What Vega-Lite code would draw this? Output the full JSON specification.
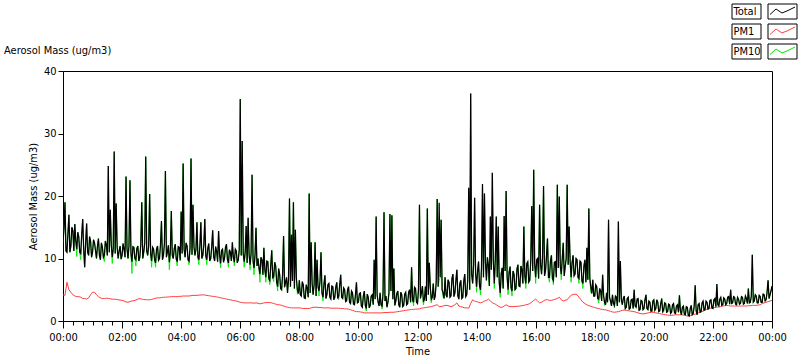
{
"$schema":"https://vega.github.io/schema/vega-lite/v6.json",
"autosize":{"type":"none"},
"width":709,"height":250,
"padding":{"left":63,"top":71,"right":28,"bottom":40},
"background":"white",
"title":{"text":"Aerosol Mass (ug/m3)","anchor":"start","frame":"group","dx":-59,"dy":69,"offset":14,"fontSize":11,"fontWeight":"normal","color":"black"},
"datasets":{
"main":[
{"m":0,"Total":12.5,"PM10":12.5},{"m":2,"Total":14.8,"PM10":14.8},{"m":4,"Total":19.0,"PM10":19.0},{"m":6,"Total":11.2,"PM10":11.2},{"m":8,"Total":11.0,"PM10":11.0},{"m":10,"Total":14.0,"PM10":14.0},{"m":12,"Total":17.0,"PM10":17.0},{"m":14,"Total":11.0,"PM10":11.0},{"m":16,"Total":12.0,"PM10":12.0},{"m":18,"Total":15.0,"PM10":15.0},
{"m":20,"Total":14.5,"PM10":14.5},{"m":22,"Total":11.2,"PM10":11.2},{"m":24,"Total":15.5,"PM10":15.5},{"m":26,"Total":12.8,"PM10":12.8},{"m":28,"Total":11.5,"PM10":10.3},{"m":30,"Total":14.2,"PM10":14.2},{"m":32,"Total":13.5,"PM10":13.5},{"m":34,"Total":11.0,"PM10":11.0},{"m":36,"Total":10.8,"PM10":9.8},{"m":38,"Total":13.8,"PM10":13.8},
{"m":40,"Total":16.3,"PM10":16.3},{"m":42,"Total":11.5,"PM10":11.5},{"m":44,"Total":8.6,"PM10":8.6},{"m":46,"Total":12.5,"PM10":12.5},{"m":48,"Total":15.6,"PM10":15.6},{"m":50,"Total":11.0,"PM10":11.0},{"m":52,"Total":10.5,"PM10":10.5},{"m":54,"Total":13.5,"PM10":13.5},{"m":56,"Total":12.8,"PM10":12.8},{"m":58,"Total":10.2,"PM10":10.2},
{"m":60,"Total":11.0,"PM10":11.0},{"m":62,"Total":13.0,"PM10":13.0},{"m":64,"Total":12.5,"PM10":12.5},{"m":66,"Total":11.3,"PM10":11.3},{"m":68,"Total":10.0,"PM10":10.0},{"m":70,"Total":12.0,"PM10":12.0},{"m":72,"Total":13.2,"PM10":13.2},{"m":74,"Total":10.5,"PM10":10.5},{"m":76,"Total":9.8,"PM10":9.8},{"m":78,"Total":12.5,"PM10":12.5},
{"m":80,"Total":11.8,"PM10":11.8},{"m":82,"Total":10.2,"PM10":10.2},{"m":84,"Total":10.5,"PM10":9.5},{"m":86,"Total":12.8,"PM10":12.8},{"m":88,"Total":12.2,"PM10":12.2},{"m":90,"Total":10.5,"PM10":10.5},{"m":92,"Total":24.8,"PM10":24.8},{"m":94,"Total":11.0,"PM10":11.0},{"m":96,"Total":17.8,"PM10":17.8},{"m":98,"Total":12.3,"PM10":12.3},
{"m":100,"Total":10.2,"PM10":9.2},{"m":102,"Total":11.5,"PM10":11.5},{"m":104,"Total":27.1,"PM10":27.1},{"m":106,"Total":10.8,"PM10":10.8},{"m":108,"Total":18.8,"PM10":18.8},{"m":110,"Total":11.8,"PM10":11.8},{"m":112,"Total":10.0,"PM10":10.0},{"m":114,"Total":11.2,"PM10":11.2},{"m":116,"Total":12.0,"PM10":12.0},{"m":118,"Total":9.9,"PM10":9.9},
{"m":120,"Total":10.5,"PM10":10.5},{"m":122,"Total":12.4,"PM10":12.4},{"m":124,"Total":11.5,"PM10":11.5},{"m":126,"Total":10.2,"PM10":10.2},{"m":128,"Total":23.1,"PM10":23.1},{"m":130,"Total":11.6,"PM10":11.6},{"m":132,"Total":10.0,"PM10":10.0},{"m":134,"Total":12.0,"PM10":12.0},{"m":136,"Total":22.5,"PM10":22.5},{"m":138,"Total":10.8,"PM10":10.8},
{"m":140,"Total":9.5,"PM10":7.6},{"m":142,"Total":11.9,"PM10":11.9},{"m":144,"Total":11.8,"PM10":11.8},{"m":146,"Total":10.0,"PM10":10.0},{"m":148,"Total":9.8,"PM10":8.8},{"m":150,"Total":11.6,"PM10":11.6},{"m":152,"Total":12.0,"PM10":12.0},{"m":154,"Total":9.6,"PM10":9.6},{"m":156,"Total":10.2,"PM10":10.2},{"m":158,"Total":12.2,"PM10":12.2},
{"m":160,"Total":19.0,"PM10":19.0},{"m":162,"Total":10.0,"PM10":10.0},{"m":164,"Total":11.0,"PM10":11.0},{"m":166,"Total":12.4,"PM10":12.4},{"m":168,"Total":26.3,"PM10":26.3},{"m":170,"Total":11.2,"PM10":11.2},{"m":172,"Total":10.5,"PM10":10.5},{"m":174,"Total":12.0,"PM10":12.0},{"m":176,"Total":20.3,"PM10":20.3},{"m":178,"Total":10.8,"PM10":10.8},
{"m":180,"Total":9.6,"PM10":8.6},{"m":182,"Total":11.8,"PM10":11.8},{"m":184,"Total":11.5,"PM10":11.5},{"m":186,"Total":9.8,"PM10":9.8},{"m":188,"Total":9.3,"PM10":8.6},{"m":190,"Total":11.5,"PM10":11.5},{"m":192,"Total":12.0,"PM10":12.0},{"m":194,"Total":9.7,"PM10":9.7},{"m":196,"Total":10.0,"PM10":10.0},{"m":198,"Total":12.2,"PM10":12.2},
{"m":200,"Total":16.0,"PM10":16.0},{"m":202,"Total":9.8,"PM10":9.8},{"m":204,"Total":10.5,"PM10":10.5},{"m":206,"Total":12.4,"PM10":12.4},{"m":208,"Total":24.0,"PM10":24.0},{"m":210,"Total":10.2,"PM10":10.2},{"m":212,"Total":11.0,"PM10":11.0},{"m":214,"Total":12.1,"PM10":12.1},{"m":216,"Total":9.4,"PM10":8.2},{"m":218,"Total":11.0,"PM10":11.0},
{"m":220,"Total":17.6,"PM10":17.6},{"m":222,"Total":10.5,"PM10":10.5},{"m":224,"Total":10.0,"PM10":10.0},{"m":226,"Total":11.6,"PM10":11.6},{"m":228,"Total":12.3,"PM10":12.3},{"m":230,"Total":9.9,"PM10":9.9},{"m":232,"Total":9.5,"PM10":8.8},{"m":234,"Total":11.9,"PM10":11.9},{"m":236,"Total":11.8,"PM10":11.8},{"m":238,"Total":9.7,"PM10":9.7},
{"m":240,"Total":17.5,"PM10":17.5},{"m":242,"Total":10.8,"PM10":10.8},{"m":244,"Total":25.2,"PM10":25.2},{"m":246,"Total":11.5,"PM10":11.5},{"m":248,"Total":10.2,"PM10":10.2},{"m":250,"Total":12.5,"PM10":12.5},{"m":252,"Total":12.0,"PM10":12.0},{"m":254,"Total":9.8,"PM10":9.8},{"m":256,"Total":9.6,"PM10":9.0},{"m":258,"Total":11.7,"PM10":11.7},
{"m":260,"Total":26.0,"PM10":26.0},{"m":262,"Total":10.6,"PM10":10.6},{"m":264,"Total":18.6,"PM10":18.6},{"m":266,"Total":11.9,"PM10":11.9},{"m":268,"Total":10.5,"PM10":10.5},{"m":270,"Total":11.4,"PM10":11.4},{"m":272,"Total":15.8,"PM10":15.8},{"m":274,"Total":10.2,"PM10":10.2},{"m":276,"Total":9.8,"PM10":9.0},{"m":278,"Total":12.0,"PM10":12.0},
{"m":280,"Total":15.8,"PM10":15.8},{"m":282,"Total":10.0,"PM10":10.0},{"m":284,"Total":10.5,"PM10":10.5},{"m":286,"Total":12.2,"PM10":12.2},{"m":288,"Total":16.3,"PM10":16.3},{"m":290,"Total":10.4,"PM10":10.4},{"m":292,"Total":9.8,"PM10":9.0},{"m":294,"Total":11.6,"PM10":11.6},{"m":296,"Total":12.4,"PM10":12.4},{"m":298,"Total":9.6,"PM10":9.6},
{"m":300,"Total":10.0,"PM10":10.0},{"m":302,"Total":11.8,"PM10":11.8},{"m":304,"Total":14.5,"PM10":14.5},{"m":306,"Total":10.3,"PM10":10.3},{"m":308,"Total":9.6,"PM10":9.6},{"m":310,"Total":11.9,"PM10":11.9},{"m":312,"Total":11.2,"PM10":11.2},{"m":314,"Total":9.5,"PM10":9.5},{"m":316,"Total":14.4,"PM10":14.4},{"m":318,"Total":10.6,"PM10":10.6},
{"m":320,"Total":9.2,"PM10":8.5},{"m":322,"Total":11.3,"PM10":11.3},{"m":324,"Total":11.5,"PM10":11.5},{"m":326,"Total":9.4,"PM10":9.4},{"m":328,"Total":10.0,"PM10":10.0},{"m":330,"Total":11.8,"PM10":11.8},{"m":332,"Total":12.3,"PM10":12.3},{"m":334,"Total":9.8,"PM10":9.8},{"m":336,"Total":9.3,"PM10":8.6},{"m":338,"Total":11.4,"PM10":11.4},
{"m":340,"Total":11.0,"PM10":11.0},{"m":342,"Total":9.6,"PM10":9.6},{"m":344,"Total":12.6,"PM10":12.6},{"m":346,"Total":10.2,"PM10":10.2},{"m":348,"Total":9.4,"PM10":8.8},{"m":350,"Total":11.5,"PM10":11.5},{"m":352,"Total":11.2,"PM10":11.2},{"m":354,"Total":9.3,"PM10":9.3},{"m":356,"Total":9.8,"PM10":9.8},{"m":358,"Total":11.4,"PM10":11.4},
{"m":360,"Total":35.5,"PM10":35.5},{"m":362,"Total":10.5,"PM10":10.5},{"m":364,"Total":28.8,"PM10":28.8},{"m":366,"Total":10.8,"PM10":10.8},{"m":368,"Total":9.5,"PM10":8.6},{"m":370,"Total":11.0,"PM10":11.0},{"m":372,"Total":15.2,"PM10":15.2},{"m":374,"Total":9.3,"PM10":9.3},{"m":376,"Total":16.5,"PM10":16.5},{"m":378,"Total":10.6,"PM10":10.6},
{"m":380,"Total":9.0,"PM10":8.2},{"m":382,"Total":10.8,"PM10":10.8},{"m":384,"Total":23.4,"PM10":23.4},{"m":386,"Total":9.6,"PM10":9.6},{"m":388,"Total":8.5,"PM10":7.4},{"m":390,"Total":10.6,"PM10":10.6},{"m":392,"Total":14.9,"PM10":14.9},{"m":394,"Total":8.8,"PM10":8.8},{"m":396,"Total":10.0,"PM10":10.0},{"m":398,"Total":8.5,"PM10":8.5},
{"m":400,"Total":7.5,"PM10":6.2},{"m":402,"Total":10.2,"PM10":10.2},{"m":404,"Total":9.8,"PM10":9.8},{"m":406,"Total":7.4,"PM10":7.4},{"m":408,"Total":11.7,"PM10":11.7},{"m":410,"Total":8.2,"PM10":8.2},{"m":412,"Total":7.0,"PM10":6.2},{"m":414,"Total":9.6,"PM10":9.6},{"m":416,"Total":9.5,"PM10":9.5},{"m":418,"Total":6.8,"PM10":6.8},
{"m":420,"Total":6.5,"PM10":5.8},{"m":422,"Total":9.0,"PM10":9.0},{"m":424,"Total":11.3,"PM10":11.3},{"m":426,"Total":6.8,"PM10":6.8},{"m":428,"Total":7.2,"PM10":6.3},{"m":430,"Total":9.4,"PM10":9.4},{"m":432,"Total":8.8,"PM10":8.8},{"m":434,"Total":6.2,"PM10":6.2},{"m":436,"Total":5.5,"PM10":4.8},{"m":438,"Total":8.4,"PM10":8.4},
{"m":440,"Total":7.5,"PM10":7.5},{"m":442,"Total":5.2,"PM10":5.2},{"m":444,"Total":5.0,"PM10":5.0},{"m":446,"Total":7.4,"PM10":7.4},{"m":448,"Total":13.6,"PM10":13.6},{"m":450,"Total":5.4,"PM10":5.4},{"m":452,"Total":6.2,"PM10":6.2},{"m":454,"Total":7.0,"PM10":7.0},{"m":456,"Total":4.5,"PM10":4.5},{"m":458,"Total":6.6,"PM10":6.6},
{"m":460,"Total":19.6,"PM10":19.6},{"m":462,"Total":5.5,"PM10":5.5},{"m":464,"Total":13.8,"PM10":13.8},{"m":466,"Total":6.4,"PM10":6.4},{"m":468,"Total":19.0,"PM10":19.0},{"m":470,"Total":5.2,"PM10":5.2},{"m":472,"Total":14.6,"PM10":14.6},{"m":474,"Total":6.8,"PM10":6.8},{"m":476,"Total":5.0,"PM10":4.3},{"m":478,"Total":4.4,"PM10":4.4},
{"m":480,"Total":6.5,"PM10":6.5},{"m":482,"Total":4.2,"PM10":4.2},{"m":484,"Total":4.0,"PM10":4.0},{"m":486,"Total":6.3,"PM10":6.3},{"m":488,"Total":5.8,"PM10":5.8},{"m":490,"Total":3.7,"PM10":3.7},{"m":492,"Total":3.6,"PM10":3.6},{"m":494,"Total":5.8,"PM10":5.8},{"m":496,"Total":5.2,"PM10":5.2},{"m":498,"Total":3.8,"PM10":3.8},
{"m":500,"Total":20.4,"PM10":20.4},{"m":502,"Total":4.5,"PM10":4.5},{"m":504,"Total":12.6,"PM10":12.6},{"m":506,"Total":6.0,"PM10":6.0},{"m":508,"Total":4.2,"PM10":4.2},{"m":510,"Total":5.8,"PM10":5.8},{"m":512,"Total":12.6,"PM10":12.6},{"m":514,"Total":4.0,"PM10":4.0},{"m":516,"Total":9.8,"PM10":9.8},{"m":518,"Total":5.5,"PM10":5.5},
{"m":520,"Total":4.8,"PM10":4.0},{"m":522,"Total":6.4,"PM10":6.4},{"m":524,"Total":11.0,"PM10":11.0},{"m":526,"Total":4.5,"PM10":4.5},{"m":528,"Total":3.8,"PM10":3.2},{"m":530,"Total":5.9,"PM10":5.9},{"m":532,"Total":7.3,"PM10":7.3},{"m":534,"Total":3.6,"PM10":3.6},{"m":536,"Total":4.2,"PM10":4.2},{"m":538,"Total":5.8,"PM10":5.8},
{"m":540,"Total":6.0,"PM10":6.0},{"m":542,"Total":3.8,"PM10":3.8},{"m":544,"Total":3.5,"PM10":3.5},{"m":546,"Total":5.6,"PM10":5.6},{"m":548,"Total":5.5,"PM10":5.5},{"m":550,"Total":3.4,"PM10":3.4},{"m":552,"Total":3.8,"PM10":3.8},{"m":554,"Total":5.4,"PM10":5.4},{"m":556,"Total":6.2,"PM10":6.2},{"m":558,"Total":3.6,"PM10":3.6},
{"m":560,"Total":4.0,"PM10":3.4},{"m":562,"Total":5.8,"PM10":5.8},{"m":564,"Total":7.4,"PM10":7.4},{"m":566,"Total":3.8,"PM10":3.8},{"m":568,"Total":3.6,"PM10":3.6},{"m":570,"Total":5.3,"PM10":5.3},{"m":572,"Total":5.0,"PM10":5.0},{"m":574,"Total":3.1,"PM10":3.1},{"m":576,"Total":3.2,"PM10":3.2},{"m":578,"Total":5.0,"PM10":5.0},
{"m":580,"Total":5.5,"PM10":5.5},{"m":582,"Total":3.0,"PM10":3.0},{"m":584,"Total":2.8,"PM10":2.8},{"m":586,"Total":4.8,"PM10":4.8},{"m":588,"Total":4.5,"PM10":4.5},{"m":590,"Total":2.7,"PM10":2.7},{"m":592,"Total":2.6,"PM10":2.6},{"m":594,"Total":4.2,"PM10":4.2},{"m":596,"Total":6.2,"PM10":6.2},{"m":598,"Total":2.9,"PM10":2.9},
{"m":600,"Total":3.0,"PM10":3.0},{"m":602,"Total":4.4,"PM10":4.4},{"m":604,"Total":4.5,"PM10":4.5},{"m":606,"Total":2.4,"PM10":2.4},{"m":608,"Total":2.2,"PM10":2.2},{"m":610,"Total":4.0,"PM10":4.0},{"m":612,"Total":4.8,"PM10":4.8},{"m":614,"Total":2.5,"PM10":2.5},{"m":616,"Total":2.0,"PM10":1.6},{"m":618,"Total":4.3,"PM10":4.3},
{"m":620,"Total":3.8,"PM10":3.8},{"m":622,"Total":2.1,"PM10":2.1},{"m":624,"Total":2.5,"PM10":2.5},{"m":626,"Total":4.0,"PM10":4.0},{"m":628,"Total":4.2,"PM10":4.2},{"m":630,"Total":2.6,"PM10":2.6},{"m":632,"Total":9.8,"PM10":9.8},{"m":634,"Total":3.5,"PM10":3.5},{"m":636,"Total":16.7,"PM10":16.7},{"m":638,"Total":4.2,"PM10":4.2},
{"m":640,"Total":3.0,"PM10":3.0},{"m":642,"Total":2.4,"PM10":2.4},{"m":644,"Total":4.5,"PM10":4.5},{"m":646,"Total":2.6,"PM10":2.6},{"m":648,"Total":2.4,"PM10":1.9},{"m":650,"Total":4.4,"PM10":4.4},{"m":652,"Total":17.4,"PM10":17.4},{"m":654,"Total":3.2,"PM10":3.2},{"m":656,"Total":4.0,"PM10":4.0},{"m":658,"Total":2.2,"PM10":2.2},
{"m":660,"Total":3.0,"PM10":3.0},{"m":662,"Total":4.5,"PM10":4.5},{"m":664,"Total":17.1,"PM10":17.1},{"m":666,"Total":4.8,"PM10":4.8},{"m":668,"Total":16.9,"PM10":16.9},{"m":670,"Total":3.5,"PM10":3.5},{"m":672,"Total":8.4,"PM10":8.4},{"m":674,"Total":2.5,"PM10":2.5},{"m":676,"Total":3.2,"PM10":3.2},{"m":678,"Total":4.4,"PM10":4.4},
{"m":680,"Total":4.8,"PM10":4.8},{"m":682,"Total":2.6,"PM10":2.6},{"m":684,"Total":2.2,"PM10":2.2},{"m":686,"Total":4.6,"PM10":4.6},{"m":688,"Total":4.2,"PM10":4.2},{"m":690,"Total":2.3,"PM10":2.3},{"m":692,"Total":2.5,"PM10":2.5},{"m":694,"Total":4.3,"PM10":4.3},{"m":696,"Total":4.6,"PM10":4.6},{"m":698,"Total":2.6,"PM10":2.6},
{"m":700,"Total":2.8,"PM10":2.8},{"m":702,"Total":4.6,"PM10":4.6},{"m":704,"Total":5.0,"PM10":5.0},{"m":706,"Total":3.0,"PM10":3.0},{"m":708,"Total":8.6,"PM10":8.6},{"m":710,"Total":3.4,"PM10":3.4},{"m":712,"Total":3.0,"PM10":2.4},{"m":714,"Total":5.4,"PM10":5.4},{"m":716,"Total":5.2,"PM10":5.2},{"m":718,"Total":3.0,"PM10":3.0},
{"m":720,"Total":2.8,"PM10":2.8},{"m":722,"Total":5.0,"PM10":5.0},{"m":724,"Total":18.6,"PM10":18.6},{"m":726,"Total":3.6,"PM10":3.6},{"m":728,"Total":4.5,"PM10":4.5},{"m":730,"Total":5.6,"PM10":5.6},{"m":732,"Total":3.2,"PM10":2.6},{"m":734,"Total":3.4,"PM10":3.4},{"m":736,"Total":5.5,"PM10":5.5},{"m":738,"Total":3.2,"PM10":3.2},
{"m":740,"Total":18.0,"PM10":18.0},{"m":742,"Total":4.2,"PM10":4.2},{"m":744,"Total":9.3,"PM10":9.3},{"m":746,"Total":5.4,"PM10":5.4},{"m":748,"Total":3.5,"PM10":2.9},{"m":750,"Total":3.8,"PM10":3.8},{"m":752,"Total":6.0,"PM10":6.0},{"m":754,"Total":3.4,"PM10":3.4},{"m":756,"Total":4.0,"PM10":4.0},{"m":758,"Total":6.2,"PM10":6.2},
{"m":760,"Total":19.5,"PM10":19.5},{"m":762,"Total":5.5,"PM10":5.5},{"m":764,"Total":18.9,"PM10":6.5},{"m":766,"Total":7.0,"PM10":7.0},{"m":768,"Total":16.2,"PM10":16.2},{"m":770,"Total":5.0,"PM10":5.0},{"m":772,"Total":4.5,"PM10":3.8},{"m":774,"Total":3.6,"PM10":3.6},{"m":776,"Total":7.0,"PM10":7.0},{"m":778,"Total":4.2,"PM10":4.2},
{"m":780,"Total":3.8,"PM10":3.8},{"m":782,"Total":6.6,"PM10":6.6},{"m":784,"Total":6.2,"PM10":6.2},{"m":786,"Total":3.8,"PM10":3.8},{"m":788,"Total":4.0,"PM10":4.0},{"m":790,"Total":6.8,"PM10":6.8},{"m":792,"Total":7.5,"PM10":7.5},{"m":794,"Total":3.9,"PM10":3.9},{"m":796,"Total":4.5,"PM10":4.5},{"m":798,"Total":6.5,"PM10":6.5},
{"m":800,"Total":8.2,"PM10":8.2},{"m":802,"Total":4.0,"PM10":4.0},{"m":804,"Total":3.5,"PM10":3.5},{"m":806,"Total":6.0,"PM10":6.0},{"m":808,"Total":6.5,"PM10":6.5},{"m":810,"Total":3.6,"PM10":3.6},{"m":812,"Total":3.8,"PM10":3.8},{"m":814,"Total":6.4,"PM10":6.4},{"m":816,"Total":7.5,"PM10":7.5},{"m":818,"Total":3.9,"PM10":3.9},
{"m":820,"Total":4.2,"PM10":4.2},{"m":822,"Total":6.5,"PM10":6.5},{"m":824,"Total":21.3,"PM10":21.3},{"m":826,"Total":5.0,"PM10":5.0},{"m":828,"Total":36.4,"PM10":36.4},{"m":830,"Total":7.5,"PM10":7.5},{"m":832,"Total":6.0,"PM10":6.0},{"m":834,"Total":9.0,"PM10":9.0},{"m":836,"Total":19.7,"PM10":19.7},{"m":838,"Total":7.6,"PM10":7.6},
{"m":840,"Total":5.5,"PM10":4.6},{"m":842,"Total":8.0,"PM10":8.0},{"m":844,"Total":9.5,"PM10":9.5},{"m":846,"Total":5.6,"PM10":5.6},{"m":848,"Total":5.0,"PM10":4.2},{"m":850,"Total":8.5,"PM10":8.5},{"m":852,"Total":21.9,"PM10":21.9},{"m":854,"Total":7.0,"PM10":7.0},{"m":856,"Total":20.4,"PM10":20.4},{"m":858,"Total":9.5,"PM10":9.5},
{"m":860,"Total":6.5,"PM10":6.5},{"m":862,"Total":10.2,"PM10":10.2},{"m":864,"Total":9.0,"PM10":7.2},{"m":866,"Total":5.6,"PM10":5.6},{"m":868,"Total":16.7,"PM10":16.7},{"m":870,"Total":8.2,"PM10":8.2},{"m":872,"Total":23.7,"PM10":23.7},{"m":874,"Total":9.6,"PM10":9.6},{"m":876,"Total":6.0,"PM10":5.2},{"m":878,"Total":9.8,"PM10":9.8},
{"m":880,"Total":16.7,"PM10":16.7},{"m":882,"Total":7.0,"PM10":7.0},{"m":884,"Total":15.1,"PM10":15.1},{"m":886,"Total":6.2,"PM10":6.2},{"m":888,"Total":4.5,"PM10":3.8},{"m":890,"Total":7.6,"PM10":7.6},{"m":892,"Total":8.5,"PM10":8.5},{"m":894,"Total":5.2,"PM10":5.2},{"m":896,"Total":16.8,"PM10":16.8},{"m":898,"Total":8.0,"PM10":8.0},
{"m":900,"Total":20.8,"PM10":20.8},{"m":902,"Total":7.0,"PM10":7.0},{"m":904,"Total":5.0,"PM10":4.2},{"m":906,"Total":7.8,"PM10":7.8},{"m":908,"Total":8.7,"PM10":8.7},{"m":910,"Total":5.3,"PM10":5.3},{"m":912,"Total":4.8,"PM10":4.0},{"m":914,"Total":8.0,"PM10":8.0},{"m":916,"Total":7.5,"PM10":7.5},{"m":918,"Total":5.0,"PM10":5.0},
{"m":920,"Total":5.2,"PM10":5.2},{"m":922,"Total":8.3,"PM10":8.3},{"m":924,"Total":9.0,"PM10":9.0},{"m":926,"Total":5.6,"PM10":5.6},{"m":928,"Total":5.5,"PM10":5.5},{"m":930,"Total":8.8,"PM10":8.8},{"m":932,"Total":8.2,"PM10":8.2},{"m":934,"Total":6.0,"PM10":6.0},{"m":936,"Total":15.1,"PM10":15.1},{"m":938,"Total":7.2,"PM10":7.2},
{"m":940,"Total":6.0,"PM10":5.2},{"m":942,"Total":9.2,"PM10":9.2},{"m":944,"Total":9.5,"PM10":9.5},{"m":946,"Total":6.2,"PM10":6.2},{"m":948,"Total":6.5,"PM10":6.5},{"m":950,"Total":9.6,"PM10":9.6},{"m":952,"Total":18.4,"PM10":18.4},{"m":954,"Total":8.0,"PM10":8.0},{"m":956,"Total":24.2,"PM10":24.2},{"m":958,"Total":9.2,"PM10":9.2},
{"m":960,"Total":7.0,"PM10":6.0},{"m":962,"Total":9.8,"PM10":9.8},{"m":964,"Total":10.0,"PM10":10.0},{"m":966,"Total":6.8,"PM10":6.8},{"m":968,"Total":18.6,"PM10":18.6},{"m":970,"Total":9.0,"PM10":9.0},{"m":972,"Total":7.5,"PM10":7.5},{"m":974,"Total":10.2,"PM10":10.2},{"m":976,"Total":21.6,"PM10":21.6},{"m":978,"Total":7.2,"PM10":7.2},
{"m":980,"Total":8.0,"PM10":8.0},{"m":982,"Total":10.4,"PM10":10.4},{"m":984,"Total":13.2,"PM10":13.2},{"m":986,"Total":7.0,"PM10":7.0},{"m":988,"Total":7.0,"PM10":6.2},{"m":990,"Total":9.6,"PM10":9.6},{"m":992,"Total":10.5,"PM10":10.5},{"m":994,"Total":6.8,"PM10":6.8},{"m":996,"Total":6.5,"PM10":5.8},{"m":998,"Total":9.4,"PM10":9.4},
{"m":1000,"Total":9.5,"PM10":9.5},{"m":1002,"Total":7.0,"PM10":7.0},{"m":1004,"Total":21.8,"PM10":21.8},{"m":1006,"Total":8.5,"PM10":8.5},{"m":1008,"Total":19.9,"PM10":19.9},{"m":1010,"Total":8.8,"PM10":8.8},{"m":1012,"Total":7.5,"PM10":6.6},{"m":1014,"Total":10.0,"PM10":10.0},{"m":1016,"Total":12.5,"PM10":12.5},{"m":1018,"Total":7.2,"PM10":7.2},
{"m":1020,"Total":8.7,"PM10":8.7},{"m":1022,"Total":10.0,"PM10":10.0},{"m":1024,"Total":21.8,"PM10":21.8},{"m":1026,"Total":9.0,"PM10":9.0},{"m":1028,"Total":15.1,"PM10":15.1},{"m":1030,"Total":9.6,"PM10":9.6},{"m":1032,"Total":7.0,"PM10":6.2},{"m":1034,"Total":9.4,"PM10":9.4},{"m":1036,"Total":10.5,"PM10":10.5},{"m":1038,"Total":7.2,"PM10":7.2},
{"m":1040,"Total":7.5,"PM10":7.5},{"m":1042,"Total":10.0,"PM10":10.0},{"m":1044,"Total":9.8,"PM10":9.8},{"m":1046,"Total":7.0,"PM10":7.0},{"m":1048,"Total":6.8,"PM10":6.0},{"m":1050,"Total":9.6,"PM10":9.6},{"m":1052,"Total":9.4,"PM10":9.4},{"m":1054,"Total":6.4,"PM10":6.4},{"m":1056,"Total":6.0,"PM10":5.2},{"m":1058,"Total":8.8,"PM10":8.8},
{"m":1060,"Total":9.8,"PM10":9.8},{"m":1062,"Total":6.2,"PM10":6.2},{"m":1064,"Total":11.7,"PM10":11.7},{"m":1066,"Total":6.6,"PM10":6.6},{"m":1068,"Total":18.0,"PM10":18.0},{"m":1070,"Total":6.8,"PM10":6.8},{"m":1072,"Total":5.5,"PM10":4.6},{"m":1074,"Total":4.4,"PM10":4.4},{"m":1076,"Total":6.6,"PM10":6.6},{"m":1078,"Total":4.0,"PM10":4.0},
{"m":1080,"Total":4.0,"PM10":4.0},{"m":1082,"Total":5.8,"PM10":5.8},{"m":1084,"Total":5.5,"PM10":5.5},{"m":1086,"Total":3.6,"PM10":3.6},{"m":1088,"Total":3.5,"PM10":2.9},{"m":1090,"Total":5.2,"PM10":5.2},{"m":1092,"Total":4.8,"PM10":4.8},{"m":1094,"Total":3.2,"PM10":3.2},{"m":1096,"Total":7.4,"PM10":7.4},{"m":1098,"Total":4.0,"PM10":4.0},
{"m":1100,"Total":3.0,"PM10":2.5},{"m":1102,"Total":2.6,"PM10":2.6},{"m":1104,"Total":4.5,"PM10":4.5},{"m":1106,"Total":3.0,"PM10":3.0},{"m":1108,"Total":16.2,"PM10":16.2},{"m":1110,"Total":3.8,"PM10":3.8},{"m":1112,"Total":3.2,"PM10":3.2},{"m":1114,"Total":2.4,"PM10":2.4},{"m":1116,"Total":4.2,"PM10":4.2},{"m":1118,"Total":2.8,"PM10":2.8},
{"m":1120,"Total":2.5,"PM10":2.1},{"m":1122,"Total":4.0,"PM10":4.0},{"m":1124,"Total":3.8,"PM10":3.8},{"m":1126,"Total":2.4,"PM10":2.4},{"m":1128,"Total":15.9,"PM10":15.9},{"m":1130,"Total":3.0,"PM10":3.0},{"m":1132,"Total":9.6,"PM10":9.6},{"m":1134,"Total":3.4,"PM10":3.4},{"m":1136,"Total":2.6,"PM10":2.6},{"m":1138,"Total":3.6,"PM10":3.6},
{"m":1140,"Total":4.0,"PM10":4.0},{"m":1142,"Total":2.0,"PM10":2.0},{"m":1144,"Total":2.2,"PM10":2.2},{"m":1146,"Total":3.6,"PM10":3.6},{"m":1148,"Total":3.8,"PM10":3.8},{"m":1150,"Total":1.9,"PM10":1.9},{"m":1152,"Total":2.0,"PM10":2.0},{"m":1154,"Total":3.4,"PM10":3.4},{"m":1156,"Total":3.5,"PM10":3.5},{"m":1158,"Total":2.0,"PM10":2.0},
{"m":1160,"Total":5.0,"PM10":5.0},{"m":1162,"Total":2.4,"PM10":2.4},{"m":1164,"Total":2.2,"PM10":2.2},{"m":1166,"Total":3.5,"PM10":3.5},{"m":1168,"Total":3.6,"PM10":3.6},{"m":1170,"Total":1.7,"PM10":1.7},{"m":1172,"Total":1.8,"PM10":1.8},{"m":1174,"Total":3.3,"PM10":3.3},{"m":1176,"Total":3.2,"PM10":3.2},{"m":1178,"Total":1.8,"PM10":1.8},
{"m":1180,"Total":2.0,"PM10":2.0},{"m":1182,"Total":3.4,"PM10":3.4},{"m":1184,"Total":4.2,"PM10":4.2},{"m":1186,"Total":2.0,"PM10":2.0},{"m":1188,"Total":1.8,"PM10":1.8},{"m":1190,"Total":3.2,"PM10":3.2},{"m":1192,"Total":3.0,"PM10":3.0},{"m":1194,"Total":1.6,"PM10":1.6},{"m":1196,"Total":1.6,"PM10":1.6},{"m":1198,"Total":3.2,"PM10":3.2},
{"m":1200,"Total":3.4,"PM10":3.4},{"m":1202,"Total":1.7,"PM10":1.7},{"m":1204,"Total":2.0,"PM10":2.0},{"m":1206,"Total":3.4,"PM10":3.4},{"m":1208,"Total":3.0,"PM10":3.0},{"m":1210,"Total":1.5,"PM10":1.5},{"m":1212,"Total":1.6,"PM10":1.6},{"m":1214,"Total":2.8,"PM10":2.8},{"m":1216,"Total":3.6,"PM10":3.6},{"m":1218,"Total":1.5,"PM10":1.5},
{"m":1220,"Total":1.8,"PM10":1.4},{"m":1222,"Total":2.9,"PM10":2.9},{"m":1224,"Total":2.8,"PM10":2.8},{"m":1226,"Total":1.4,"PM10":1.4},{"m":1228,"Total":1.5,"PM10":1.5},{"m":1230,"Total":2.7,"PM10":2.7},{"m":1232,"Total":2.6,"PM10":2.6},{"m":1234,"Total":1.2,"PM10":1.2},{"m":1236,"Total":1.4,"PM10":1.4},{"m":1238,"Total":2.6,"PM10":2.6},
{"m":1240,"Total":2.8,"PM10":2.8},{"m":1242,"Total":1.3,"PM10":1.3},{"m":1244,"Total":1.2,"PM10":1.2},{"m":1246,"Total":2.4,"PM10":2.4},{"m":1248,"Total":2.6,"PM10":2.6},{"m":1250,"Total":1.4,"PM10":1.4},{"m":1252,"Total":4.1,"PM10":4.1},{"m":1254,"Total":1.6,"PM10":1.6},{"m":1256,"Total":1.0,"PM10":1.0},{"m":1258,"Total":2.2,"PM10":2.2},
{"m":1260,"Total":2.4,"PM10":2.4},{"m":1262,"Total":1.1,"PM10":1.1},{"m":1264,"Total":1.0,"PM10":1.0},{"m":1266,"Total":2.3,"PM10":2.3},{"m":1268,"Total":2.2,"PM10":2.2},{"m":1270,"Total":0.9,"PM10":0.9},{"m":1272,"Total":0.8,"PM10":0.8},{"m":1274,"Total":2.0,"PM10":2.0},{"m":1276,"Total":2.5,"PM10":2.5},{"m":1278,"Total":1.0,"PM10":1.0},
{"m":1280,"Total":1.2,"PM10":1.2},{"m":1282,"Total":2.4,"PM10":2.4},{"m":1284,"Total":5.7,"PM10":5.7},{"m":1286,"Total":1.6,"PM10":1.6},{"m":1288,"Total":1.0,"PM10":1.0},{"m":1290,"Total":2.6,"PM10":2.6},{"m":1292,"Total":2.8,"PM10":2.8},{"m":1294,"Total":1.4,"PM10":1.4},{"m":1296,"Total":1.5,"PM10":1.5},{"m":1298,"Total":2.9,"PM10":2.9},
{"m":1300,"Total":3.2,"PM10":3.2},{"m":1302,"Total":1.7,"PM10":1.7},{"m":1304,"Total":1.8,"PM10":1.8},{"m":1306,"Total":3.2,"PM10":3.2},{"m":1308,"Total":3.0,"PM10":3.0},{"m":1310,"Total":1.9,"PM10":1.9},{"m":1312,"Total":2.0,"PM10":2.0},{"m":1314,"Total":3.3,"PM10":3.3},{"m":1316,"Total":3.4,"PM10":3.4},{"m":1318,"Total":2.1,"PM10":2.1},
{"m":1320,"Total":2.0,"PM10":2.0},{"m":1322,"Total":3.4,"PM10":3.4},{"m":1324,"Total":3.6,"PM10":3.6},{"m":1326,"Total":2.3,"PM10":2.3},{"m":1328,"Total":5.9,"PM10":5.9},{"m":1330,"Total":2.6,"PM10":2.6},{"m":1332,"Total":2.4,"PM10":2.4},{"m":1334,"Total":3.5,"PM10":3.5},{"m":1336,"Total":3.8,"PM10":3.8},{"m":1338,"Total":2.5,"PM10":2.5},
{"m":1340,"Total":2.6,"PM10":2.6},{"m":1342,"Total":3.7,"PM10":3.7},{"m":1344,"Total":3.5,"PM10":3.5},{"m":1346,"Total":2.6,"PM10":2.6},{"m":1348,"Total":2.8,"PM10":2.8},{"m":1350,"Total":3.8,"PM10":3.8},{"m":1352,"Total":3.9,"PM10":3.9},{"m":1354,"Total":2.7,"PM10":2.7},{"m":1356,"Total":5.0,"PM10":5.0},{"m":1358,"Total":2.8,"PM10":2.8},
{"m":1360,"Total":2.9,"PM10":2.9},{"m":1362,"Total":3.9,"PM10":3.9},{"m":1364,"Total":3.8,"PM10":3.8},{"m":1366,"Total":2.7,"PM10":2.7},{"m":1368,"Total":2.6,"PM10":2.6},{"m":1370,"Total":3.8,"PM10":3.8},{"m":1372,"Total":3.5,"PM10":3.5},{"m":1374,"Total":2.7,"PM10":2.7},{"m":1376,"Total":2.8,"PM10":2.8},{"m":1378,"Total":3.9,"PM10":3.9},
{"m":1380,"Total":3.8,"PM10":3.8},{"m":1382,"Total":2.7,"PM10":2.7},{"m":1384,"Total":2.8,"PM10":2.8},{"m":1386,"Total":4.0,"PM10":4.0},{"m":1388,"Total":3.6,"PM10":3.6},{"m":1390,"Total":2.8,"PM10":2.8},{"m":1392,"Total":5.2,"PM10":5.2},{"m":1394,"Total":2.9,"PM10":2.9},{"m":1396,"Total":3.0,"PM10":3.0},{"m":1398,"Total":4.0,"PM10":4.0},
{"m":1400,"Total":10.6,"PM10":10.6},{"m":1402,"Total":3.0,"PM10":3.0},{"m":1404,"Total":3.2,"PM10":3.2},{"m":1406,"Total":4.2,"PM10":4.2},{"m":1408,"Total":4.0,"PM10":4.0},{"m":1410,"Total":2.9,"PM10":2.9},{"m":1412,"Total":2.9,"PM10":2.9},{"m":1414,"Total":4.1,"PM10":4.1},{"m":1416,"Total":3.9,"PM10":3.9},{"m":1418,"Total":3.0,"PM10":3.0},
{"m":1420,"Total":3.0,"PM10":3.0},{"m":1422,"Total":4.3,"PM10":4.3},{"m":1424,"Total":4.2,"PM10":4.2},{"m":1426,"Total":3.2,"PM10":3.2},{"m":1428,"Total":3.4,"PM10":3.4},{"m":1430,"Total":4.6,"PM10":4.6},{"m":1432,"Total":6.5,"PM10":6.5},{"m":1434,"Total":3.6,"PM10":3.6},{"m":1436,"Total":4.2,"PM10":4.2},{"m":1438,"Total":4.8,"PM10":4.8},
{"m":1440,"Total":5.6,"PM10":5.6}
],
"pm1":[
{"m":0,"PM1":4.2},{"m":4,"PM1":4.1},{"m":8,"PM1":6.2},{"m":12,"PM1":5.0},{"m":16,"PM1":4.6},{"m":20,"PM1":4.2},{"m":24,"PM1":4.0},{"m":28,"PM1":3.9},{"m":32,"PM1":3.9},{"m":36,"PM1":3.8},
{"m":40,"PM1":3.6},{"m":44,"PM1":3.6},{"m":48,"PM1":3.5},{"m":52,"PM1":3.7},{"m":56,"PM1":4.2},{"m":60,"PM1":4.6},{"m":64,"PM1":4.6},{"m":68,"PM1":4.2},{"m":72,"PM1":3.9},{"m":76,"PM1":3.7},
{"m":80,"PM1":3.6},{"m":84,"PM1":3.6},{"m":88,"PM1":3.65},{"m":92,"PM1":3.6},{"m":96,"PM1":3.55},{"m":100,"PM1":3.5},{"m":104,"PM1":3.5},{"m":108,"PM1":3.45},{"m":112,"PM1":3.4},{"m":116,"PM1":3.35},
{"m":120,"PM1":3.3},{"m":124,"PM1":3.2},{"m":128,"PM1":3.05},{"m":132,"PM1":3.0},{"m":136,"PM1":3.1},{"m":140,"PM1":3.2},{"m":144,"PM1":3.25},{"m":148,"PM1":3.35},{"m":152,"PM1":3.5},{"m":156,"PM1":3.6},
{"m":160,"PM1":3.5},{"m":164,"PM1":3.45},{"m":168,"PM1":3.4},{"m":172,"PM1":3.4},{"m":176,"PM1":3.4},{"m":180,"PM1":3.45},{"m":184,"PM1":3.55},{"m":188,"PM1":3.65},{"m":192,"PM1":3.7},{"m":196,"PM1":3.7},
{"m":200,"PM1":3.75},{"m":204,"PM1":3.8},{"m":208,"PM1":3.8},{"m":212,"PM1":3.85},{"m":216,"PM1":3.85},{"m":220,"PM1":3.9},{"m":224,"PM1":3.9},{"m":228,"PM1":3.9},{"m":232,"PM1":3.9},{"m":236,"PM1":3.95},
{"m":240,"PM1":3.95},{"m":244,"PM1":4.0},{"m":248,"PM1":4.0},{"m":252,"PM1":4.0},{"m":256,"PM1":4.0},{"m":260,"PM1":4.05},{"m":264,"PM1":4.1},{"m":268,"PM1":4.1},{"m":272,"PM1":4.1},{"m":276,"PM1":4.15},
{"m":280,"PM1":4.15},{"m":284,"PM1":4.2},{"m":288,"PM1":4.15},{"m":292,"PM1":4.1},{"m":296,"PM1":4.05},{"m":300,"PM1":4.0},{"m":304,"PM1":3.95},{"m":308,"PM1":3.9},{"m":312,"PM1":3.85},{"m":316,"PM1":3.8},
{"m":320,"PM1":3.7},{"m":324,"PM1":3.65},{"m":328,"PM1":3.6},{"m":332,"PM1":3.5},{"m":336,"PM1":3.45},{"m":340,"PM1":3.4},{"m":344,"PM1":3.3},{"m":348,"PM1":3.25},{"m":352,"PM1":3.2},{"m":356,"PM1":3.1},
{"m":360,"PM1":3.0},{"m":364,"PM1":2.95},{"m":368,"PM1":2.9},{"m":372,"PM1":2.9},{"m":376,"PM1":2.9},{"m":380,"PM1":2.9},{"m":384,"PM1":2.9},{"m":388,"PM1":2.85},{"m":392,"PM1":2.9},{"m":396,"PM1":2.85},
{"m":400,"PM1":2.75},{"m":404,"PM1":2.8},{"m":408,"PM1":2.9},{"m":412,"PM1":2.95},{"m":416,"PM1":2.95},{"m":420,"PM1":2.95},{"m":424,"PM1":2.9},{"m":428,"PM1":2.8},{"m":432,"PM1":2.7},{"m":436,"PM1":2.6},
{"m":440,"PM1":2.6},{"m":444,"PM1":2.5},{"m":448,"PM1":2.4},{"m":452,"PM1":2.3},{"m":456,"PM1":2.2},{"m":460,"PM1":2.15},{"m":464,"PM1":2.1},{"m":468,"PM1":2.1},{"m":472,"PM1":2.1},{"m":476,"PM1":2.1},
{"m":480,"PM1":2.1},{"m":484,"PM1":2.05},{"m":488,"PM1":2.0},{"m":492,"PM1":2.0},{"m":496,"PM1":2.0},{"m":500,"PM1":2.0},{"m":504,"PM1":2.1},{"m":508,"PM1":2.2},{"m":512,"PM1":2.2},{"m":516,"PM1":2.2},
{"m":520,"PM1":2.15},{"m":524,"PM1":2.15},{"m":528,"PM1":2.1},{"m":532,"PM1":2.1},{"m":536,"PM1":2.1},{"m":540,"PM1":2.1},{"m":544,"PM1":2.05},{"m":548,"PM1":2.05},{"m":552,"PM1":2.05},{"m":556,"PM1":2.05},
{"m":560,"PM1":2.05},{"m":564,"PM1":2.0},{"m":568,"PM1":2.0},{"m":572,"PM1":1.95},{"m":576,"PM1":1.95},{"m":580,"PM1":1.9},{"m":584,"PM1":1.8},{"m":588,"PM1":1.7},{"m":592,"PM1":1.6},{"m":596,"PM1":1.5},
{"m":600,"PM1":1.5},{"m":604,"PM1":1.45},{"m":608,"PM1":1.4},{"m":612,"PM1":1.3},{"m":616,"PM1":1.3},{"m":620,"PM1":1.3},{"m":624,"PM1":1.3},{"m":628,"PM1":1.3},{"m":632,"PM1":1.3},{"m":636,"PM1":1.3},
{"m":640,"PM1":1.3},{"m":644,"PM1":1.3},{"m":648,"PM1":1.3},{"m":652,"PM1":1.35},{"m":656,"PM1":1.35},{"m":660,"PM1":1.35},{"m":664,"PM1":1.4},{"m":668,"PM1":1.4},{"m":672,"PM1":1.4},{"m":676,"PM1":1.45},
{"m":680,"PM1":1.5},{"m":684,"PM1":1.55},{"m":688,"PM1":1.6},{"m":692,"PM1":1.65},{"m":696,"PM1":1.7},{"m":700,"PM1":1.75},{"m":704,"PM1":1.8},{"m":708,"PM1":1.85},{"m":712,"PM1":1.85},{"m":716,"PM1":1.9},
{"m":720,"PM1":1.9},{"m":724,"PM1":1.95},{"m":728,"PM1":2.05},{"m":732,"PM1":2.1},{"m":736,"PM1":2.15},{"m":740,"PM1":2.2},{"m":744,"PM1":2.25},{"m":748,"PM1":2.3},{"m":752,"PM1":2.4},{"m":756,"PM1":2.5},
{"m":760,"PM1":2.6},{"m":764,"PM1":2.3},{"m":768,"PM1":2.3},{"m":772,"PM1":2.4},{"m":776,"PM1":2.5},{"m":780,"PM1":2.5},{"m":784,"PM1":2.4},{"m":788,"PM1":2.3},{"m":792,"PM1":2.4},{"m":796,"PM1":2.6},
{"m":800,"PM1":2.9},{"m":804,"PM1":2.4},{"m":808,"PM1":2.3},{"m":812,"PM1":2.2},{"m":816,"PM1":2.1},{"m":820,"PM1":2.1},{"m":824,"PM1":2.05},{"m":828,"PM1":2.8},{"m":832,"PM1":3.4},{"m":836,"PM1":3.2},
{"m":840,"PM1":3.1},{"m":844,"PM1":3.0},{"m":848,"PM1":2.9},{"m":852,"PM1":3.0},{"m":856,"PM1":3.2},{"m":860,"PM1":3.3},{"m":864,"PM1":3.5},{"m":868,"PM1":3.2},{"m":872,"PM1":2.9},{"m":876,"PM1":2.8},
{"m":880,"PM1":2.6},{"m":884,"PM1":2.4},{"m":888,"PM1":2.2},{"m":892,"PM1":2.2},{"m":896,"PM1":2.4},{"m":900,"PM1":2.6},{"m":904,"PM1":2.4},{"m":908,"PM1":2.3},{"m":912,"PM1":2.3},{"m":916,"PM1":2.3},
{"m":920,"PM1":2.35},{"m":924,"PM1":2.35},{"m":928,"PM1":2.4},{"m":932,"PM1":2.45},{"m":936,"PM1":2.5},{"m":940,"PM1":2.6},{"m":944,"PM1":2.65},{"m":948,"PM1":2.8},{"m":952,"PM1":3.0},{"m":956,"PM1":3.3},
{"m":960,"PM1":3.5},{"m":964,"PM1":3.2},{"m":968,"PM1":2.9},{"m":972,"PM1":3.0},{"m":976,"PM1":3.2},{"m":980,"PM1":3.4},{"m":984,"PM1":3.4},{"m":988,"PM1":3.3},{"m":992,"PM1":3.3},{"m":996,"PM1":3.4},
{"m":1000,"PM1":3.5},{"m":1004,"PM1":3.6},{"m":1008,"PM1":3.8},{"m":1012,"PM1":3.4},{"m":1016,"PM1":3.2},{"m":1020,"PM1":3.3},{"m":1024,"PM1":3.4},{"m":1028,"PM1":3.8},{"m":1032,"PM1":4.1},{"m":1036,"PM1":4.25},
{"m":1040,"PM1":4.3},{"m":1044,"PM1":4.2},{"m":1048,"PM1":3.8},{"m":1052,"PM1":3.4},{"m":1056,"PM1":3.0},{"m":1060,"PM1":2.8},{"m":1064,"PM1":2.6},{"m":1068,"PM1":2.45},{"m":1072,"PM1":2.35},{"m":1076,"PM1":2.25},
{"m":1080,"PM1":2.15},{"m":1084,"PM1":2.05},{"m":1088,"PM1":2.0},{"m":1092,"PM1":1.9},{"m":1096,"PM1":1.85},{"m":1100,"PM1":1.8},{"m":1104,"PM1":1.75},{"m":1108,"PM1":1.65},{"m":1112,"PM1":1.55},{"m":1116,"PM1":1.45},
{"m":1120,"PM1":1.4},{"m":1124,"PM1":1.45},{"m":1128,"PM1":1.5},{"m":1132,"PM1":1.6},{"m":1136,"PM1":1.7},{"m":1140,"PM1":1.75},{"m":1144,"PM1":1.7},{"m":1148,"PM1":1.65},{"m":1152,"PM1":1.6},{"m":1156,"PM1":1.55},
{"m":1160,"PM1":1.5},{"m":1164,"PM1":1.4},{"m":1168,"PM1":1.3},{"m":1172,"PM1":1.2},{"m":1176,"PM1":1.15},{"m":1180,"PM1":1.15},{"m":1184,"PM1":1.2},{"m":1188,"PM1":1.3},{"m":1192,"PM1":1.35},{"m":1196,"PM1":1.4},
{"m":1200,"PM1":1.4},{"m":1204,"PM1":1.3},{"m":1208,"PM1":1.25},{"m":1212,"PM1":1.2},{"m":1216,"PM1":1.1},{"m":1220,"PM1":1.05},{"m":1224,"PM1":1.0},{"m":1228,"PM1":0.95},{"m":1232,"PM1":0.9},{"m":1236,"PM1":0.9},
{"m":1240,"PM1":0.95},{"m":1244,"PM1":1.0},{"m":1248,"PM1":1.0},{"m":1252,"PM1":1.0},{"m":1256,"PM1":1.0},{"m":1260,"PM1":0.95},{"m":1264,"PM1":0.9},{"m":1268,"PM1":0.8},{"m":1272,"PM1":0.8},{"m":1276,"PM1":0.9},
{"m":1280,"PM1":1.0},{"m":1284,"PM1":1.1},{"m":1288,"PM1":1.2},{"m":1292,"PM1":1.35},{"m":1296,"PM1":1.45},{"m":1300,"PM1":1.6},{"m":1304,"PM1":1.75},{"m":1308,"PM1":1.9},{"m":1312,"PM1":2.0},{"m":1316,"PM1":2.05},
{"m":1320,"PM1":2.1},{"m":1324,"PM1":2.15},{"m":1328,"PM1":2.2},{"m":1332,"PM1":2.25},{"m":1336,"PM1":2.3},{"m":1340,"PM1":2.4},{"m":1344,"PM1":2.45},{"m":1348,"PM1":2.5},{"m":1352,"PM1":2.45},{"m":1356,"PM1":2.4},
{"m":1360,"PM1":2.4},{"m":1364,"PM1":2.4},{"m":1368,"PM1":2.4},{"m":1372,"PM1":2.4},{"m":1376,"PM1":2.4},{"m":1380,"PM1":2.4},{"m":1384,"PM1":2.4},{"m":1388,"PM1":2.4},{"m":1392,"PM1":2.45},{"m":1396,"PM1":2.45},
{"m":1400,"PM1":2.5},{"m":1404,"PM1":2.5},{"m":1408,"PM1":2.5},{"m":1412,"PM1":2.55},{"m":1416,"PM1":2.6},{"m":1420,"PM1":2.8},{"m":1424,"PM1":2.9},{"m":1428,"PM1":3.0},{"m":1432,"PM1":3.1},{"m":1436,"PM1":3.2},
{"m":1440,"PM1":3.3}
],
"keys":[{"s":"Total"},{"s":"PM1"},{"s":"PM10"}]
},
"encoding":{"x":{"field":"m","type":"quantitative","title":"Time",
  "scale":{"domain":[0,1440],"nice":false,"zero":false},
  "axis":{"values":[0,20,40,60,80,100,120,140,160,180,200,220,240,260,280,300,320,340,360,380,400,420,440,460,480,500,520,540,560,580,600,620,640,660,680,700,720,740,760,780,800,820,840,860,880,900,920,940,960,980,1000,1020,1040,1060,1080,1100,1120,1140,1160,1180,1200,1220,1240,1260,1280,1300,1320,1340,1360,1380,1400,1420,1440],
   "labelExpr":"datum.value % 120 == 0 ? utcFormat(datum.value*60000, '%H:%M') : ''",
   "tickSize":{"condition":{"test":"datum.value % 120 == 0","value":7},"value":4},
   "labelPadding":3,"titlePadding":3,"labelFlush":false,"labelOverlap":false,"labelBound":false}}},
"layer":[
 {"layer":[
  {"data":{"name":"pm1"},"mark":{"type":"line","strokeWidth":1,"clip":true},
   "encoding":{"y":{"field":"PM1","type":"quantitative","title":"Aerosol Mass (ug/m3)","scale":{"domain":[0,40],"nice":false},
     "axis":{"values":[0,5,10,15,20,25,30,35,40],"tickSize":5,"labelPadding":2,"titlePadding":5,"labelFlush":false}},
    "color":{"datum":"PM1","type":"nominal","scale":{"domain":["Total","PM1","PM10"],"range":["#000000","#ff3c3c","#00e600"]},
     "legend":{"orient":"none","legendX":668.5,"legendY":-70,"title":null,"direction":"vertical",
      "symbolType":"M-1,-0.75M5.5,0.75M2.8,0.3L3.4,-0.25L4,0.15L4.6,-0.1L5.3,-0.45",
      "symbolSize":400,"symbolStrokeWidth":1,"symbolFillColor":"transparent",
      "labelOpacity":0,"labelOffset":-19,"labelFontSize":11,"rowPadding":-1,"padding":0}}}},
  {"data":{"name":"main"},"mark":{"type":"line","strokeWidth":0.9,"clip":true},
   "encoding":{"y":{"field":"PM10","type":"quantitative","title":"Aerosol Mass (ug/m3)","scale":{"domain":[0,40],"nice":false}},
    "color":{"datum":"PM10","type":"nominal"}}},
  {"data":{"name":"main"},"mark":{"type":"line","strokeWidth":1.25,"clip":true},
   "encoding":{"y":{"field":"Total","type":"quantitative","title":"Aerosol Mass (ug/m3)","scale":{"domain":[0,40],"nice":false}},
    "color":{"datum":"Total","type":"nominal"}}}
 ]},
 {"data":{"name":"keys"},
  "mark":{"type":"line","strokeWidth":1},
  "encoding":{"x":{"datum":0,"type":"quantitative","title":"Time"},
   "y":{"datum":0,"type":"quantitative","title":"Aerosol Mass (ug/m3)"},
   "color":{"field":"s","type":"nominal","scale":{"domain":["Total","PM1","PM10"],"range":["#000000","#000000","#000000"]},
    "legend":{"orient":"none","legendX":668.5,"legendY":-70,"title":null,"direction":"vertical",
     "symbolType":"M-1,-0.75H1.9V0.75H-1Z M2.6,-0.75H5.5V0.75H2.6Z",
     "symbolSize":400,"symbolStrokeWidth":1,"symbolFillColor":"transparent",
     "labelColor":"#000000","labelOffset":-19,"labelFontSize":11,"rowPadding":-1,"padding":0}}}}
],
"resolve":{"scale":{"color":"independent"}},
"config":{
 "font":"DejaVu Sans Condensed, Liberation Sans, sans-serif",
 "view":{"stroke":"#000000","strokeWidth":1},
 "axis":{"labelFontSize":11,"titleFontSize":11,"titleFontWeight":"normal","labelColor":"#000000","titleColor":"#000000","domainColor":"#000000","tickColor":"#000000","grid":false},
 "legend":{"labelFontSize":11}
}
}
